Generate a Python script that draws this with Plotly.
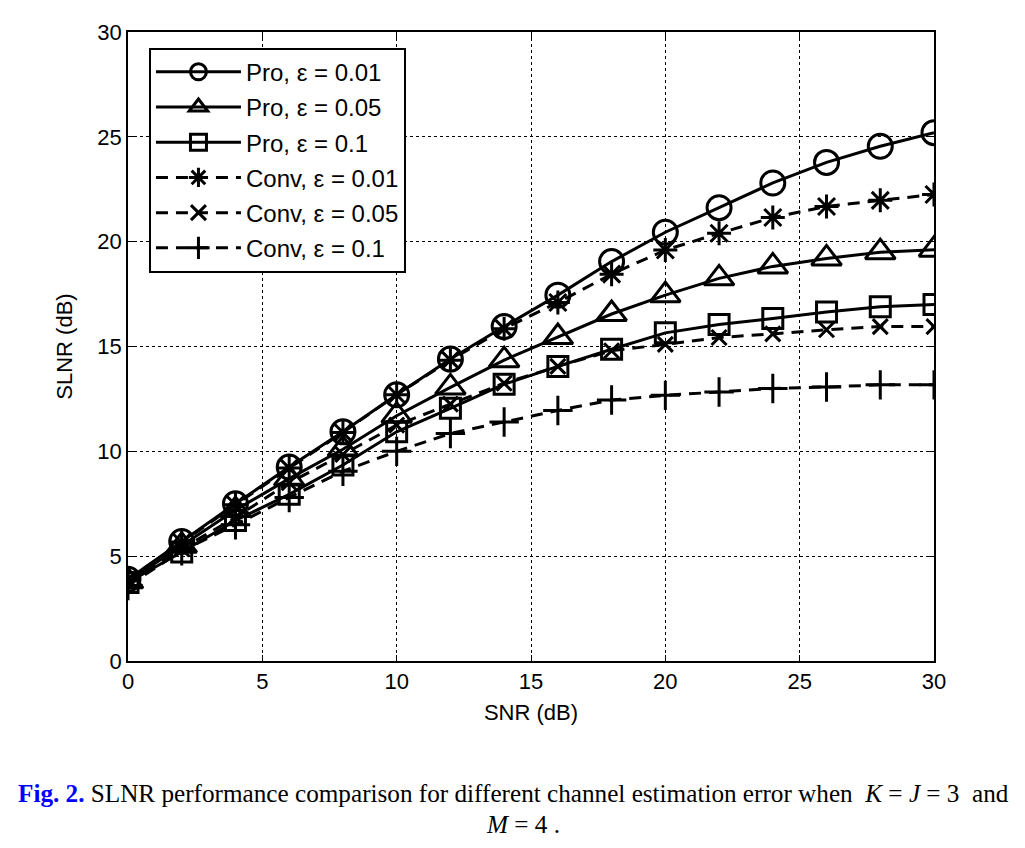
import plotly.graph_objects as go

snr = [0, 2, 4, 6, 8, 10, 12, 14, 16, 18, 20, 22, 24, 26, 28, 30]

pro_001 = [3.9, 5.7, 7.5, 9.25, 10.93, 12.7, 14.4, 15.95, 17.45, 19.05, 20.45, 21.62, 22.8, 23.78, 24.55, 25.2]
pro_005 = [3.8, 5.5, 7.2, 8.7, 10.1, 11.7, 13.05, 14.35, 15.45, 16.55, 17.45, 18.25, 18.82, 19.2, 19.5, 19.62]
pro_01 = [3.75, 5.2, 6.7, 7.95, 9.35, 10.93, 12.05, 13.2, 14.05, 14.87, 15.65, 16.05, 16.33, 16.65, 16.9, 17.0]
conv_001 = [3.9, 5.65, 7.45, 9.2, 10.9, 12.7, 14.35, 15.85, 17.1, 18.45, 19.6, 20.4, 21.15, 21.68, 21.97, 22.25]
conv_005 = [3.75, 5.35, 6.85, 8.5, 9.85, 11.25, 12.25, 13.25, 14.05, 14.8, 15.1, 15.43, 15.6, 15.8, 15.95, 15.95]
conv_01 = [3.6, 5.25, 6.5, 7.8, 9.05, 10.0, 10.85, 11.4, 11.95, 12.45, 12.67, 12.83, 13.0, 13.07, 13.17, 13.17]

series = [
    ("Pro, ε = 0.01", pro_001, "circle-open", "solid", 24),
    ("Pro, ε = 0.05", pro_005, "triangle-up-open", "solid", 26),
    ("Pro, ε = 0.1", pro_01, "square-open", "solid", 20),
    ("Conv, ε = 0.01", conv_001, "asterisk-open", "dash", 20),
    ("Conv, ε = 0.05", conv_005, "x-thin-open", "dash", 15),
    ("Conv, ε = 0.1", conv_01, "cross-thin-open", "dash", 21),
]

fig = go.Figure()
for i, (name, ys, sym, dash, size) in enumerate(series):
    fig.add_trace(go.Scatter(
        x=snr, y=ys, name=name, mode="lines+markers",
        legendgroup=f"g{i}",
        line=dict(color="black", width=3, dash=("12px,8px" if dash == "dash" else "solid")),
        marker=dict(symbol=sym, size=size, color="black", line=dict(color="black", width=3)),
    ))

axis_common = dict(
    range=[0, 30], dtick=5, ticks="inside", ticklen=6, tickcolor="black",
    showline=True, linecolor="black", linewidth=1.5, mirror="ticks",
    showgrid=True, gridcolor="black", gridwidth=1, griddash="dot",
    zeroline=False, tickfont=dict(family="Liberation Sans, Arial", size=22, color="black"),
)

fig.update_xaxes(**axis_common, title=dict(text="SNR (dB)", standoff=11,
                 font=dict(family="Liberation Sans, Arial", size=22, color="black")))
fig.update_yaxes(**axis_common, title=dict(text="SLNR (dB)", standoff=19,
                 font=dict(family="Liberation Sans, Arial", size=22, color="black")))

fig.update_layout(
    width=1025, height=848,
    margin=dict(l=120, r=99, t=19, b=195),
    plot_bgcolor="white", paper_bgcolor="white",
    legend=dict(
        x=0.026, y=0.975, xanchor="left", yanchor="top",
        bgcolor="white", bordercolor="black", borderwidth=2,
        font=dict(family="Liberation Sans, Arial", size=24, color="black"),
        itemwidth=85, tracegroupgap=1, traceorder="grouped",
    ),
    showlegend=True,
)

fig.add_annotation(
    xref="paper", yref="paper", x=0.478, y=-0.2114, xanchor="center", yanchor="middle",
    showarrow=False,
    text='<span style="color:#0000ff"><b>Fig. 2.</b></span> SLNR performance comparison for different channel estimation error when  <i>K</i> = <i>J</i> = 3  and',
    font=dict(family="Liberation Serif, Times New Roman", size=25.2, color="black"),
)
fig.add_annotation(
    xref="paper", yref="paper", x=0.49, y=-0.26, xanchor="center", yanchor="middle",
    showarrow=False,
    text='<i>M</i> = 4 .',
    font=dict(family="Liberation Serif, Times New Roman", size=25.2, color="black"),
)

fig.write_html("out.html")
